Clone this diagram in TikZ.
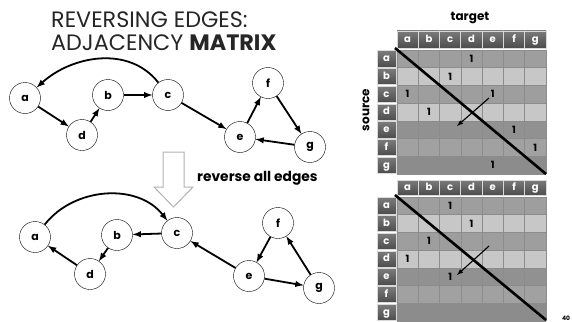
\documentclass[tikz,border=0pt]{standalone}
\usepackage{fontspec}
\setmainfont{Poppins}
\usepackage{tikz}
\usetikzlibrary{arrows}
\usetikzlibrary{shapes}
\usetikzlibrary{calc}
\usetikzlibrary{shadings}
\tikzstyle{vtx}=[circle,draw,thin,fill=white,minimum size=31pt,inner sep=0pt,font=\fontsize{11}{11}\selectfont\bfseries]
\tikzstyle{edg}=[line width=1.8pt,-latex]
\tikzstyle{hdcell}=[draw=black!15,line width=0.8pt,top color=black!52,bottom color=black!70]
\tikzstyle{hdtxt}=[white,inner sep=0pt,text height=7pt,text depth=2pt,font=\fontsize{10}{10}\selectfont\bfseries]
\tikzstyle{one}=[inner sep=0pt,text height=7pt,text depth=0pt,font=\fontsize{10}{10}\selectfont\bfseries]

\begin{document}
\begin{tikzpicture}[x=1pt,y=-1pt]
\useasboundingbox (0,0) rectangle (572,321);

%title
\node[anchor=north west,inner sep=0pt,align=left,text=black!85,font=\fontsize{22.3}{23.5}\selectfont] (title) at (51,11.5) {REVERSING EDGES:\\ADJACENCY \textbf{MATRIX}};

%graph before
\node[vtx] (a) at (25,98) {a};
\node[vtx] (b) at (108,95) {b};
\node[vtx] (c) at (168,95) {c};
\node[vtx] (d) at (82,135) {d};
\node[vtx] (e) at (240,137) {e};
\node[vtx] (f) at (268,83) {f};
\node[vtx] (g) at (310,147) {g};

\draw[edg] (c) to[out=128,in=42] (a);
\draw[edg] (a) -- (d);
\draw[edg] (d) -- (b);
\draw[edg] (b) -- (c);
\draw[edg] (c) -- (e);
\draw[edg] (e) -- (f);
\draw[edg] (f) -- (g);
\draw[edg] (g) -- (e);

%down arrow
\draw[draw=black!30,line width=1pt,fill=white] (163,152) -- (184,152) -- (184,187) -- (193,187) -- (173.5,207) -- (154,187) -- (163,187) -- cycle;
\node[anchor=west,inner sep=0pt,font=\fontsize{13.8}{14}\selectfont\bfseries] (rev) at (197,178) {reverse all edges};

%graph after
\node[vtx] (a2) at (35,237) {a};
\node[vtx] (b2) at (117,235) {b};
\node[vtx] (c2) at (177,233) {c};
\node[vtx] (d2) at (90,274) {d};
\node[vtx] (e2) at (249,276) {e};
\node[vtx] (f2) at (278,223) {f};
\node[vtx] (g2) at (319,288) {g};

\draw[edg] (a2) to[out=52,in=128] (c2);
\draw[edg] (c2) -- (b2);
\draw[edg] (b2) -- (d2);
\draw[edg] (d2) -- (a2);
\draw[edg] (e2) -- (c2);
\draw[edg] (f2) -- (e2);
\draw[edg] (g2) -- (f2);
\draw[edg] (e2) -- (g2);

%labels of the matrices
\node[inner sep=0pt,font=\fontsize{12}{12}\selectfont\bfseries] (target) at (470,18) {target};
\node[inner sep=0pt,rotate=90,font=\fontsize{12}{12}\selectfont\bfseries] (source) at (366,110) {source};

%both matrices: top edge of header, top edge of body
\foreach \hy/\by/\m in {31/50/t,180/197/u} {
  %body rows
  \foreach \l/\c [count=\j from 0] in {a/black!38,b/black!22,c/black!38,d/black!22,e/black!43,f/black!37,g/black!45} {
    \fill[\c] (397,\by+\j*17.75) rectangle (546,\by+\j*17.75+17.75);
    \draw[hdcell] (377,\by+\j*17.75+0.8) rectangle (396,\by+\j*17.75+17);
    \node[hdtxt] (\m r\j) at (386.5,\by+\j*17.75+9) {\l};
  }
  %grid
  \foreach \i in {0,...,7} {
    \draw[black!45,line width=0.6pt] (397+\i*21.29,\by) -- (397+\i*21.29,\by+124.25);
  }
  \foreach \j in {0,...,7} {
    \draw[black!45,line width=0.6pt] (397,\by+\j*17.75) -- (546,\by+\j*17.75);
  }
  %header
  \foreach \l [count=\i from 0] in {a,b,c,d,e,f,g} {
    \draw[hdcell] (397+\i*21.29,\hy) rectangle (397+\i*21.29+21.29,\by-2);
    \node[hdtxt] (\m c\i) at (407.6+\i*21.29,\hy+0.5*\by-0.5*\hy-1) {\l};
  }
}

%entries before
\foreach \i/\j in {3/0,2/1,0/2,4/2,1/3,5/4,6/5,4/6} {
  \node[one] (t\i\j) at (407.6+\i*21.29,58.9+\j*17.75) {1};
}
%entries after
\foreach \i/\j in {2/0,3/1,1/2,0/3,2/4} {
  \node[one] (u\i\j) at (407.6+\i*21.29,205.9+\j*17.75) {1};
}

%diagonals and flip arrows
\draw[line width=2.6pt] (395,48) -- (546,174);
\draw[line width=2.6pt] (395,195) -- (546,320);
\draw[line width=1.1pt,-latex] (489,98) -- (457,126);
\draw[line width=1.1pt,-latex] (489,246) -- (457,275);

%page number
\node[inner sep=0pt,font=\fontsize{6}{6}\selectfont\bfseries] (pg) at (566,318) {40};
\end{tikzpicture}
\end{document}
